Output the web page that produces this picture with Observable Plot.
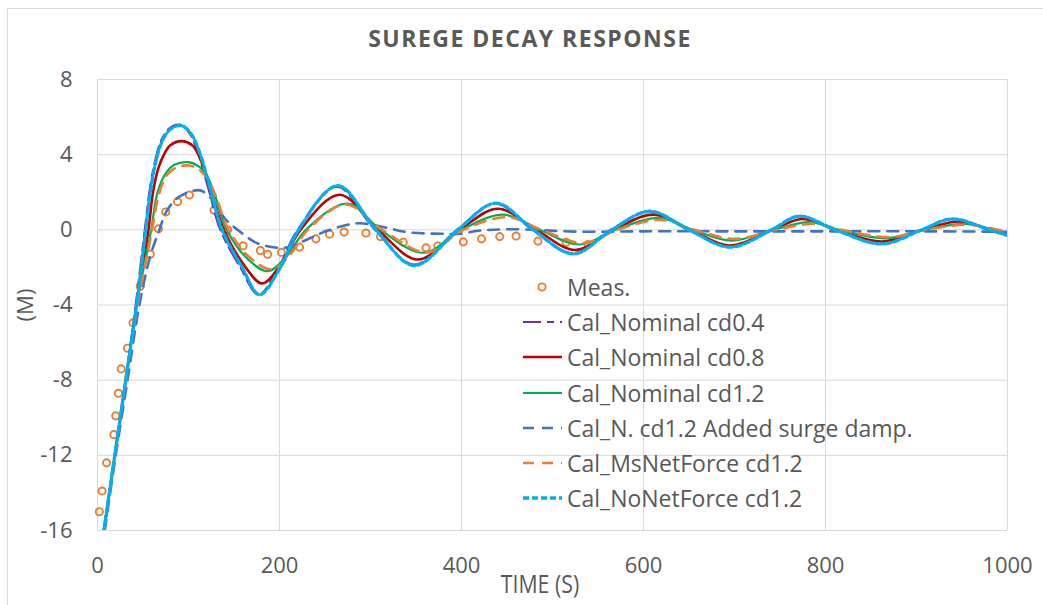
<!DOCTYPE html>
<html><head><meta charset="utf-8">
<script src="https://cdn.jsdelivr.net/npm/d3@7"></script>
<script src="https://cdn.jsdelivr.net/npm/@observablehq/plot@0.6"></script>
<style>
body{margin:0;background:#fff;}
#wrap{position:relative;width:1043px;height:605px;overflow:hidden;background:#fff;font-family:"Open Sans",sans-serif;color:#595959;}
#frame{position:absolute;left:7px;top:8px;width:1100px;height:700px;border-top:1px solid #D9D9D9;border-left:1px solid #D9D9D9;}
#title{position:absolute;top:24px;left:0;width:1060px;text-align:center;font-weight:bold;font-size:23px;line-height:28px;letter-spacing:1.5px;color:#595959;}
#chart{position:absolute;top:60px;left:0;}
.lab{position:absolute;color:#595959;white-space:nowrap;}
#legend .row{position:absolute;left:520px;height:30px;line-height:30px;font-size:23px;white-space:nowrap;color:#595959;}
#legend svg{position:absolute;left:0;top:0;}
#legend span{position:absolute;left:47px;top:0;}
</style></head>
<body>
<div id="wrap">
  <div id="frame"></div>
  <div id="title">SUREGE DECAY RESPONSE</div>
  <div id="chart"></div>
  <div class="lab" id="ylab" style="left:24px;top:305px;font-size:22px;transform:translate(-50%,-50%) rotate(-90deg);">(M)</div>
  <div class="lab" id="xlab" style="left:540px;top:583px;font-size:26px;transform:translate(-50%,-50%) scaleX(0.82);">TIME (S)</div>
  <div id="legend"></div>
</div>
<script>
// ---- data (time in s, response in M) ----
const xTicks = [0, 200, 400, 600, 800, 1000];
const yTicks = [-16, -12, -8, -4, 0, 4, 8];

const meas = [[2,-15.0],[5,-13.9],[10,-12.4],[18,-10.9],[20,-9.9],[23,-8.7],[26,-7.4],[33,-6.3],[39,-4.95],[47,-3.0],[58,-1.3],[67,0.05],[75,0.95],[88,1.5],[101,1.85],[128,1.05],[143,0.0],[160,-0.85],[179,-1.1],[187,-1.3],[202,-1.2],[222,-0.92],[240,-0.48],[255,-0.23],[271,-0.12],[295,-0.17],[311,-0.36],[336,-0.66],[361,-0.96],[374,-0.86],[402,-0.64],[422,-0.48],[442,-0.36],[460,-0.33],[484,-0.6],[515,-0.66],[539,-0.78]];

const cd04 = [[7,-16],[19,-12],[31,-8],[42,-4],[52,0],[57,2],[63,3.6],[70,4.75],[79,5.4],[90,5.6],[101,5.15],[111,4],[123,2],[135,0],[157,-2],[177,-3.45],[199,-2],[220,0],[263,2.3],[305,0],[348,-1.85],[395,0],[437,1.4],[478,0],[522,-1.25],[564,0],[606,0.97],[649,0],[694,-0.9],[740,0],[770,0.72],[810,0],[861,-0.74],[905,0],[939,0.57],[979,0],[1000,-0.3]];

const cd08 = [[7,-16],[19,-12],[31,-8],[43,-4],[56,0],[61,2],[67,3.3],[73,4],[80,4.5],[93,4.72],[104,4.5],[111,4],[125,2],[139,0],[160,-1.8],[181,-2.85],[202,-1.8],[223,0],[266,1.87],[308,0],[352,-1.58],[398,0],[440,1.12],[482,0],[525,-1.07],[567,0],[611,0.81],[652,0],[694,-0.84],[742,0],[774,0.58],[812,0],[862,-0.62],[907,0],[947,0.44],[982,0],[1000,-0.3]];

const cd12 = [[7,-16],[19,-12],[31,-8],[43,-4],[59,0],[66,2],[75,3.0],[84,3.45],[100,3.6],[112,3.35],[120,2.9],[128,2.0],[142,0],[164,-1.5],[187,-2.2],[208,-1.4],[229,0],[275,1.4],[311,0],[358,-1.22],[400,0],[446,0.81],[486,0],[530,-0.78],[569,0],[617,0.64],[654,0],[697,-0.57],[743,0],[782,0.41],[815,0],[866,-0.45],[908,0],[954,0.32],[985,0],[1000,-0.22]];

const addDamp = [[8,-16],[20,-12],[33,-8],[46,-4],[58,-1.4],[68,0],[76,1],[88,1.7],[100,2.0],[113,2.1],[126,1.6],[140,0.6],[154,0],[175,-0.7],[197,-0.95],[209,-0.93],[231,-0.5],[253,-0.04],[286,0.35],[315,0.14],[341,-0.13],[378,-0.21],[400,-0.2],[418,-0.05],[455,0.03],[529,-0.1],[600,-0.08],[700,-0.08],[800,-0.08],[900,-0.08],[1000,-0.1]];

const msNet = [[7,-16],[19,-12],[31,-8],[44,-4],[60,0],[67,1.8],[76,2.9],[86,3.3],[101,3.42],[113,3.15],[121,2.7],[130,1.8],[144,0],[168,-1.5],[192,-2.1],[212,-1.3],[231,0],[273,1.35],[313,0],[362,-1.2],[402,0],[451,0.67],[488,0],[535,-0.71],[571,0],[620,0.53],[656,0],[700,-0.48],[745,0],[789,0.32],[818,0],[870,-0.39],[910,0],[958,0.27],[990,0],[1000,-0.12]];

const noNet = [[7,-16],[19,-12],[31,-8],[43,-4],[53,0],[58,2],[64,3.6],[71,4.7],[80,5.35],[92,5.55],[103,5.1],[113,4],[125,2],[137,0],[159,-2],[178,-3.45],[201,-2],[221,0],[264,2.35],[306,0],[348,-1.9],[396,0],[438,1.42],[479,0],[523,-1.28],[565,0],[607,0.99],[650,0],[695,-0.92],[741,0],[771,0.73],[811,0],[862,-0.75],[906,0],[939,0.58],[980,0],[1000,-0.3]];

const seriesNames = ["Meas.","Cal_Nominal cd0.4","Cal_Nominal cd0.8","Cal_Nominal cd1.2","Cal_N. cd1.2 Added surge damp.","Cal_MsNetForce cd1.2","Cal_NoNetForce cd1.2"];
const seriesColors = ["#ED7D31","#7030A0","#C00000","#00B050","#4472C4","#ED7D31","#00B0F0"];

// ---- styles for lines ----
const lineSeries = [
  {data: cd04, color: seriesColors[1], w: 2.2, dash: "18,6,7,6"},
  {data: cd08, color: seriesColors[2], w: 2.6, dash: null},
  {data: cd12, color: seriesColors[3], w: 2.2, dash: null},
  {data: addDamp, color: seriesColors[4], w: 2.6, dash: "11,8"},
  {data: msNet, color: seriesColors[5], w: 2.6, dash: "11,8"},
  {data: noNet, color: seriesColors[6], w: 3.3, dash: "6,3"}
];

const toRows = arr => arr.map(([t, v]) => ({t, v}));

const marks = [
  Plot.gridX(xTicks, {stroke: "#D9D9D9", strokeOpacity: 1, strokeWidth: 1}),
  Plot.gridY(yTicks, {stroke: "#D9D9D9", strokeOpacity: 1, strokeWidth: 1}),
  Plot.axisX(xTicks, {tickSize: 0, tickPadding: 27, label: null, tickFormat: d => String(d), fill: "#595959"}),
  Plot.axisY(yTicks, {tickSize: 0, tickPadding: 25, label: null, tickFormat: d => String(d), fill: "#595959"}),
  Plot.dot(toRows(meas), {x: "t", y: "v", r: 3.6, stroke: seriesColors[0], strokeWidth: 1.9, fill: "none"})
];
for (const s of lineSeries) {
  marks.push(Plot.line(toRows(s.data), {x: "t", y: "v", stroke: s.color, strokeWidth: s.w,
    strokeDasharray: s.dash || undefined, curve: "catmull-rom", clip: true}));
}

const chart = Plot.plot({
  width: 1043, height: 545,
  marginTop: 19, marginBottom: 75, marginLeft: 97, marginRight: 36,
  x: {domain: [0, 1000]},
  y: {domain: [-16, 8]},
  style: {fontFamily: "'Open Sans', sans-serif", fontSize: "22px", color: "#595959", background: "transparent", overflow: "visible"},
  marks
});
document.getElementById("chart").appendChild(chart);

// ---- legend (inside plot, transparent) ----
const legend = document.getElementById("legend");
const rowCenters0 = 287, rowStep = 35.2;
seriesNames.forEach((name, i) => {
  const row = document.createElement("div");
  row.className = "row";
  row.style.top = (rowCenters0 + i * rowStep - 15) + "px";
  let sw;
  if (i === 0) {
    sw = `<svg width="44" height="30"><circle cx="22" cy="15" r="3.6" fill="none" stroke="${seriesColors[0]}" stroke-width="1.9"/></svg>`;
  } else {
    const s = lineSeries[i - 1];
    sw = `<svg width="44" height="30"><line x1="3" x2="42" y1="15" y2="15" stroke="${s.color}" stroke-width="${s.w}" ${s.dash ? `stroke-dasharray="${s.dash}"` : ""}/></svg>`;
  }
  row.innerHTML = sw + `<span>${name}</span>`;
  legend.appendChild(row);
});
</script>
</body></html>
